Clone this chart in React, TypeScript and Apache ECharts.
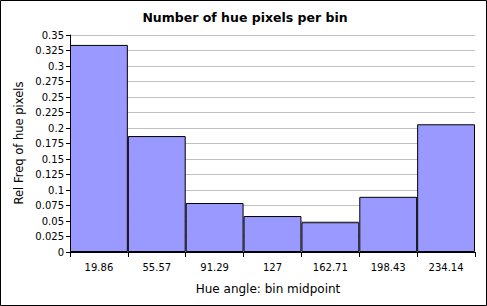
import React, { useEffect, useRef } from "react";
import * as echarts from "echarts";

const categories = ["19.86", "55.57", "91.29", "127", "162.71", "198.43", "234.14"];
const relFreq = [0.334, 0.187, 0.079, 0.058, 0.048, 0.089, 0.206];
const yMin = 0;
const yMax = 0.35;
const yInterval = 0.025;
const titleText = "Number of hue pixels per bin";
const xName = "Hue angle: bin midpoint";
const yName = "Rel Freq of hue pixels";

export default function App() {
  const ref = useRef<HTMLDivElement>(null);
  useEffect(() => {
    if (!ref.current) return;
    const chart = echarts.init(ref.current, null, { renderer: "svg" });
    const font = "DejaVu Sans";
    chart.setOption({
      animation: false,
      backgroundColor: "#ffffff",
      textStyle: { fontFamily: font },
      title: {
        text: titleText,
        left: 240,
        textAlign: "center",
        top: 6,
        textStyle: { fontSize: 12.5, fontWeight: "bold", color: "#000", fontFamily: font },
      },
      graphic: [
        {
          type: "rect",
          shape: { x: 0.5, y: 0.5, width: 486, height: 305 },
          style: { fill: "none", stroke: "#000", lineWidth: 1 },
          silent: true,
        },
        {
          type: "text",
          x: 268,
          y: 283,
          style: { text: xName, fill: "#000", font: `12px ${font}`, align: "center", verticalAlign: "top" },
        },
        {
          type: "text",
          x: 13,
          y: 143,
          rotation: Math.PI / 2,
          style: { text: yName, fill: "#000", font: `11.5px ${font}`, align: "center", verticalAlign: "top" },
        },
      ],
      grid: { left: 70, right: 12, top: 35, bottom: 54, containLabel: false },
      xAxis: {
        type: "category",
        data: categories,
        boundaryGap: true,
        axisLine: { lineStyle: { color: "#000", width: 1 } },
        axisTick: { show: true, alignWithLabel: false, length: 5, inside: false, lineStyle: { color: "#000" } },
        axisLabel: { color: "#000", fontSize: 10, fontFamily: font, margin: 10 },
        splitLine: { show: false },
      },
      yAxis: {
        type: "value",
        min: yMin,
        max: yMax,
        interval: yInterval,
        axisLine: { show: true, lineStyle: { color: "#000", width: 1 } },
        axisTick: { show: true, length: 4, lineStyle: { color: "#000" } },
        axisLabel: {
          color: "#000",
          fontSize: 10,
          fontFamily: font,
          margin: 6,
          formatter: (v: number) => String(parseFloat(v.toFixed(3))),
        },
        splitLine: { show: true, lineStyle: { color: "#c0c0c0", width: 1 } },
      },
      series: [
        {
          type: "bar",
          data: relFreq,
          barCategoryGap: "0%",
          itemStyle: { color: "#9999ff", borderColor: "#000", borderWidth: 1 },
        },
      ],
    });
    return () => chart.dispose();
  }, []);
  return <div ref={ref} style={{ position: "fixed", left: 0, top: 0, width: 487, height: 306 }} />;
}
